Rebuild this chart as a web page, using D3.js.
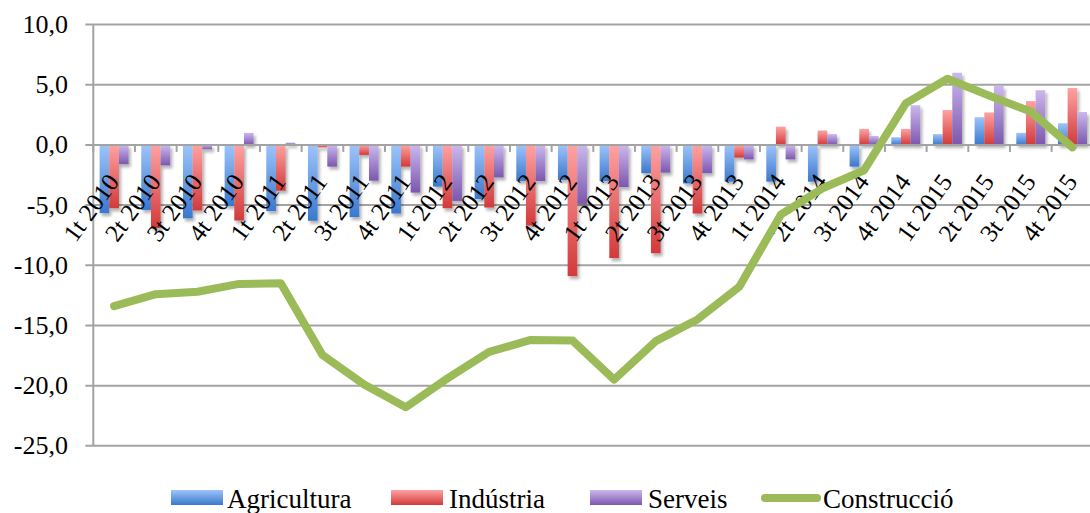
<!DOCTYPE html>
<html><head><meta charset="utf-8">
<script src="https://cdn.jsdelivr.net/npm/d3@7"></script>
<style>body{margin:0;background:#fff}svg{display:block}
text{font-family:'Liberation Serif','Times New Roman','DejaVu Serif',serif}</style>
</head><body>
<svg id="c" width="1090" height="513"></svg>
<script>
const categories = ["1t 2010","2t 2010","3t 2010","4t 2010","1t 2011","2t 2011","3t 2011","4t 2011","1t 2012","2t 2012","3t 2012","4t 2012","1t 2013","2t 2013","3t 2013","4t 2013","1t 2014","2t 2014","3t 2014","4t 2014","1t 2015","2t 2015","3t 2015","4t 2015"];
const agricultura = [-5.67,-5.4,-6.1,-5.07,-5.5,-6.3,-6.0,-5.7,-3.46,-4.5,-3.0,-2.9,-3.0,-2.35,-3.2,-3.05,-3.05,-3.05,-1.8,0.64,0.9,2.3,1.0,1.8];
const industria = [-5.26,-6.9,-5.45,-6.28,-3.8,-0.2,-0.83,-1.8,-5.26,-5.2,-6.7,-10.9,-9.4,-9.0,-5.7,-1.05,1.52,1.2,1.33,1.33,2.9,2.7,3.65,4.73];
const serveis = [-1.6,-1.7,-0.36,1.0,0.2,-1.8,-2.97,-3.96,-4.65,-2.7,-3.0,-4.9,-3.5,-2.3,-2.35,-1.2,-1.2,0.9,0.75,3.3,6.0,4.9,4.55,2.74];
const construccio = [-13.4,-12.4,-12.2,-11.55,-11.5,-17.45,-19.9,-21.8,-19.4,-17.2,-16.2,-16.25,-19.5,-16.3,-14.5,-11.8,-5.8,-3.6,-2.1,3.45,5.5,4.1,2.77,-0.2];
const yTicks = [10,5,0,-5,-10,-15,-20,-25];
const seriesNames = ["Agricultura","Indústria","Serveis","Construcció"];

const svg = d3.select("#c");
const x0 = 93.3, x1 = 1093.3, yTop = 24.6, yBot = 445.8;
const x = d3.scaleBand().domain(categories).range([x0, x1]);
const y = d3.scaleLinear().domain([-25, 10]).range([yBot, yTop]);
const barSeries = [
  {name: seriesNames[0], values: agricultura, light: "#9dc4fb", dark: "#3a78cc", id: "gA"},
  {name: seriesNames[1], values: industria, light: "#ffa2a2", dark: "#d23a3a", id: "gI"},
  {name: seriesNames[2], values: serveis, light: "#cbb8ee", dark: "#7c57ae", id: "gS"}
];
const defs = svg.append("defs");
barSeries.forEach(s => {
  const g = defs.append("linearGradient").attr("id", s.id).attr("x1",0).attr("y1",0).attr("x2",0).attr("y2",1);
  g.append("stop").attr("offset","0%").attr("stop-color", s.light);
  g.append("stop").attr("offset","100%").attr("stop-color", s.dark);
});
const f = defs.append("filter").attr("id","sh").attr("x","-30%").attr("y","-30%").attr("width","160%").attr("height","160%");
f.append("feDropShadow").attr("dx",2).attr("dy",3).attr("stdDeviation",1.6).attr("flood-color","#000").attr("flood-opacity",0.3);

// gridlines
svg.append("g").selectAll("line").data(yTicks).join("line")
  .attr("x1", x0 - 8).attr("x2", 1090).attr("y1", d => y(d)).attr("y2", d => y(d))
  .attr("stroke", "#a3a3a3").attr("stroke-width", 2);
// y axis line
svg.append("line").attr("x1", x0).attr("x2", x0).attr("y1", yTop).attr("y2", yBot)
  .attr("stroke", "#a3a3a3").attr("stroke-width", 2);
// y labels
svg.append("g").selectAll("text").data(yTicks).join("text")
  .attr("x", 68).attr("y", d => y(d) + 8.5).attr("text-anchor", "end")
  .attr("font-size", 26).attr("fill", "#000")
  .text(d => d3.format(".1f")(d).replace(".", ",").replace("−","-"));

// bars
const inner = d3.scaleBand().domain([0,1,2]).range([0, 29]);
const off = (x.bandwidth() - 29) / 2;
const bars = svg.append("g").attr("filter", "url(#sh)");
barSeries.forEach((s, si) => {
  bars.append("g").selectAll("rect").data(s.values).join("rect")
    .attr("x", (d, i) => x(categories[i]) + off + inner(si))
    .attr("width", inner.bandwidth())
    .attr("y", d => Math.min(y(d), y(0)))
    .attr("height", d => Math.abs(y(d) - y(0)))
    .attr("fill", `url(#${s.id})`);
});
// x axis tick marks
svg.append("g").selectAll("line").data(d3.range(categories.length + 1)).join("line")
  .attr("x1", i => x0 + i * x.step()).attr("x2", i => x0 + i * x.step())
  .attr("y1", y(0)).attr("y2", y(0) + 7)
  .attr("stroke", "#a3a3a3").attr("stroke-width", 2);
svg.append("line").attr("x1", x0).attr("x2", 1090).attr("y1", y(0)).attr("y2", y(0))
  .attr("stroke", "#a3a3a3").attr("stroke-width", 2);

// x labels
svg.append("g").selectAll("text").data(categories).join("text")
  .attr("transform", d => `translate(${x(d) + x.bandwidth()/2 + 6},182) rotate(-54)`)
  .attr("text-anchor", "end")
  .attr("font-size", 25).attr("fill", "#000")
  .text(d => d);

// line
const line = d3.line().x((d, i) => x(categories[i]) + x.bandwidth()/2).y(d => y(d));
svg.append("path").datum(construccio).attr("d", line)
  .attr("fill", "none").attr("stroke", "#9bbb59").attr("stroke-width", 8)
  .attr("stroke-linejoin", "round").attr("stroke-linecap", "round");

// legend
const lg = svg.append("g");
const legendX = [171, 391, 590, 761];
const textX = [227, 449, 648, 823];
barSeries.forEach((s, i) => {
  lg.append("rect").attr("x", legendX[i]).attr("y", 490).attr("width", 52).attr("height", 15).attr("fill", `url(#${s.id})`);
  lg.append("text").attr("x", textX[i]).attr("y", 508)
    .attr("font-size", 27).attr("fill", "#000").text(s.name);
});
lg.append("line").attr("x1", legendX[3] + 4).attr("x2", legendX[3] + 56).attr("y1", 498).attr("y2", 498)
  .attr("stroke", "#9bbb59").attr("stroke-width", 8).attr("stroke-linecap", "round");
lg.append("text").attr("x", textX[3]).attr("y", 508)
  .attr("font-size", 27).attr("fill", "#000").text(seriesNames[3]);
</script>
</body></html>
